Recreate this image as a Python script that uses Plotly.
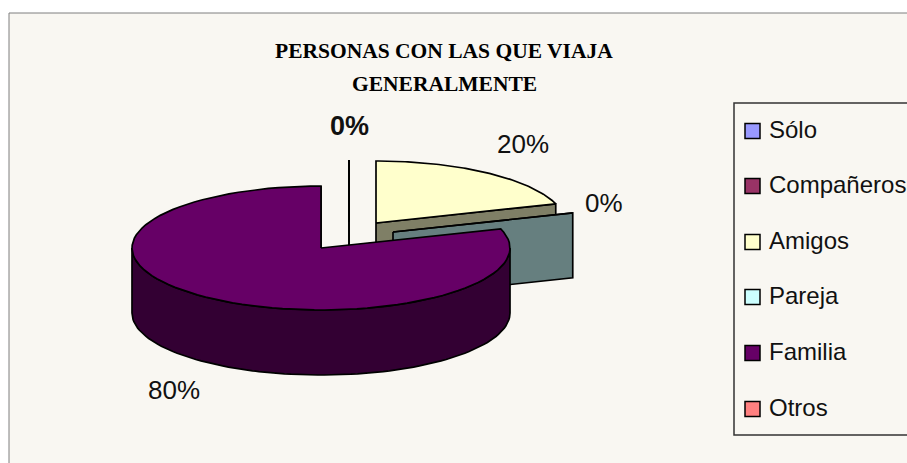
"""
3D style pie: personas con las que viaja generalmente.
"""
import numpy as np
import plotly.graph_objects as go

categories = ["Sólo", "Compañeros", "Amigos", "Pareja", "Familia", "Otros"]
shares = [0, 0, 20, 0, 80, 0]
title_lines = ["PERSONAS CON LAS QUE VIAJA", "GENERALMENTE"]

face_colors = ["#9999FF", "#993366", "#FFFFCC", "#CCFFFF", "#660066", "#FF8080"]
wall_colors = ["#4C4C7F", "#4C1933", "#7F7F66", "#667F7F", "#330033", "#7F4040"]

# pie geometry, in canvas pixels
CX, CY = 321, 248
RX, RY = 189, 62
DEPTH = 65
# how far each slice is pulled out of the pie
explode = {
    "Sólo": (28, -26),
    "Compañeros": (28, -26),
    "Amigos": (55, -25),
    "Pareja": (72, -16),
    "Familia": (0, 0),
    "Otros": (0, 0),
}
# label position of each visible percentage
label_pos = {
    "Sólo": (349, 126, True),
    "Amigos": (523, 144, False),
    "Pareja": (604, 203, False),
    "Familia": (174, 390, False),
}
BACKGROUND = "#F9F7F2"
LABEL_FONT = "Liberation Sans, Arial, sans-serif"


def rim(deg_from, deg_to, dx, dy, n=90):
    """Points of the ellipse rim, clockwise from twelve o'clock."""
    t = np.radians(np.linspace(deg_from, deg_to, n))
    return CX + dx + RX * np.sin(t), CY + dy - RY * np.cos(t)


def polygon(x, y, fill):
    return go.Scatter(
        x=list(x),
        y=list(y),
        mode="lines",
        fill="toself",
        fillcolor=fill,
        line=dict(color="black", width=1.7),
        hoverinfo="skip",
        showlegend=False,
    )


def slice_traces(a0, a1, dx, dy, face, wall):
    traces = []
    apex_x, apex_y = CX + dx, CY + dy
    # straight side that faces the viewer
    if 0 <= a1 < 180:
        ex, ey = rim(a1, a1, dx, dy, n=1)
        traces.append(polygon(
            [apex_x, ex[0], ex[0], apex_x, apex_x],
            [apex_y, ey[0], ey[0] + DEPTH, apex_y + DEPTH, apex_y],
            wall,
        ))
    # curved front wall
    front0, front1 = max(a0, 90), min(a1, 270)
    if front1 > front0:
        rx_, ry_ = rim(front0, front1, dx, dy)
        traces.append(polygon(
            np.concatenate([rx_, rx_[::-1], rx_[:1]]),
            np.concatenate([ry_, ry_[::-1] + DEPTH, ry_[:1]]),
            wall,
        ))
    # top face
    fx, fy = rim(a0, a1, dx, dy)
    traces.append(polygon(
        np.concatenate([[apex_x], fx, [apex_x]]),
        np.concatenate([[apex_y], fy, [apex_y]]),
        face,
    ))
    return traces


fig = go.Figure()

ends = np.cumsum(shares) * 360 / sum(shares)
starts = ends - np.array(shares) * 360 / sum(shares)

# painted back to front
for i in [5, 0, 1, 2, 3, 4]:
    name = categories[i]
    dx, dy = explode[name]
    for tr in slice_traces(starts[i], ends[i], dx, dy, face_colors[i], wall_colors[i]):
        fig.add_trace(tr)

# percentage labels
for name, (lx, ly, bold) in label_pos.items():
    fig.add_annotation(
        x=lx, y=ly, text=f"{shares[categories.index(name)]}%", showarrow=False,
        font=dict(family=LABEL_FONT, size=27 if bold else 26, color="#111111",
                  weight="bold" if bold else "normal"),
    )

# legend entries
legend_y = [131, 186, 242, 297, 353, 409]
fig.add_trace(go.Scatter(
    x=[752.5] * len(categories),
    y=legend_y,
    mode="markers",
    marker=dict(symbol="square", size=15, color=face_colors, line=dict(color="black", width=1.5)),
    hoverinfo="skip",
    showlegend=False,
    cliponaxis=False,
))
for name, ly in zip(categories, legend_y):
    fig.add_annotation(
        x=767, y=ly - 2, text=name, showarrow=False, xanchor="left",
        font=dict(family=LABEL_FONT, size=24, color="#111111"),
    )

# title, two separate lines to hold the original spacing
for line, ty in zip(title_lines, [51, 84]):
    fig.add_annotation(
        x=444, y=ty, text=line, showarrow=False,
        font=dict(family="Liberation Serif, Times New Roman, serif", size=21.5,
                  color="black", weight="bold"),
    )

fig.update_layout(
    width=907,
    height=463,
    margin=dict(l=0, r=0, t=0, b=0),
    paper_bgcolor="white",
    plot_bgcolor="white",
    xaxis=dict(range=[0, 907], visible=False, fixedrange=True),
    yaxis=dict(range=[463, 0], visible=False, fixedrange=True),
    shapes=[
        # chart area
        dict(type="rect", x0=9, y0=13, x1=920, y1=480, layer="below",
             fillcolor=BACKGROUND, line=dict(color="#7F7F7F", width=1)),
        # legend box
        dict(type="rect", x0=734, y0=103, x1=920, y1=435, layer="below",
             fillcolor=BACKGROUND, line=dict(color="#333333", width=1.5)),
    ],
)

# the browser's default page margin would push the chart off the window
fig.write_html(
    "out.html",
    config={"displayModeBar": False},
    post_script="document.body.style.margin = '0';",
)
